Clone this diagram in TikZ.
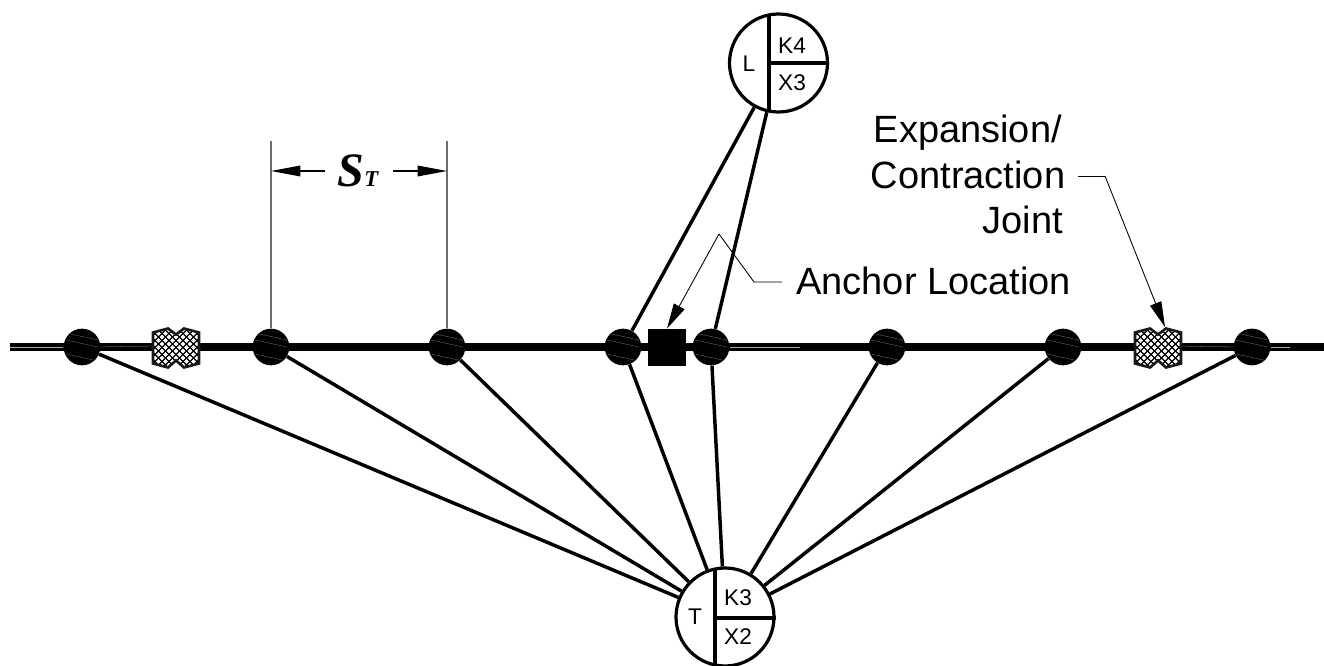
\documentclass[tikz,border=0pt]{standalone}
\usepackage{fontspec}
\setmainfont{Liberation Sans}
\newfontfamily\tnr{Liberation Serif}
\usetikzlibrary{arrows.meta,backgrounds,calc}
\tikzset{
  x=0.75pt,y=-0.75pt,
  support/.style={circle,fill=black,draw=none,minimum size=27.5pt,inner sep=0pt,
    path picture={
      \foreach \dy in {-11,-4,10}{
        \draw[black!55,line width=0.25pt]
          ($(path picture bounding box.center)+(-16,\dy-3)$) --
          ($(path picture bounding box.center)+(16,\dy+4)$);
      }
    }},
  mainline/.style={line width=5.4pt,black},
  sliver/.style={line width=0.2pt,black!35},
  conn/.style={line width=2.6pt,black},
  anchorbox/.style={rectangle,fill=black,draw=none,minimum size=28pt,inner sep=0pt},
  tag/.style={circle,draw=black,fill=white,line width=2.4pt,minimum size=73.5pt,inner sep=0pt},
  tagrule/.style={line width=2.6pt,black},
  tagtext/.style={font=\fontsize{17}{19}\selectfont,inner sep=0pt},
  callout/.style={font=\fontsize{28.5}{33}\selectfont,inner sep=0pt},
  leader/.style={line width=0.65pt,black},
  leadarrow/.style={leader,-{Triangle[length=19pt,width=9pt]}},
  dimline/.style={line width=0.9pt,black,-{Triangle[length=22pt,width=8pt]}},
  witness/.style={line width=1pt,gray!85!black},
  joint/.pic={
    \begin{scope}
      \clip (-23,-15) -- (-8,-19) -- (0,-13) -- (8,-19) -- (23,-15) -- (23,16) -- (8,20) -- (0,13) -- (-8,20) -- (-23,16) -- cycle;
      \fill[white] (-30,-30) rectangle (30,30);
      \foreach \k in {-70,-63,...,70}{
        \draw[line width=0.95pt,black] (\k-30,-30) -- (\k+30,30);
        \draw[line width=0.95pt,black] (\k-30,30) -- (\k+30,-30);
      }
    \end{scope}
    \draw[line width=2pt,black!90] (-23,-15) -- (-8,-19) -- (0,-13) -- (8,-19) -- (23,-15) -- (23,16) -- (8,20) -- (0,13) -- (-8,20) -- (-23,16) -- cycle;
  }
}
\begin{document}
\begin{tikzpicture}
\useasboundingbox (0,0) rectangle (1324,666);
% supports
\node[support] (d1) at (82,347) {};
\node[support] (d2) at (271,347) {};
\node[support] (d3) at (447,347) {};
\node[support] (d4) at (623,347) {};
\node[support] (d5) at (711,347) {};
\node[support] (d6) at (887,347) {};
\node[support] (d7) at (1063,347) {};
\node[support] (d8) at (1252,347) {};
\node[anchorbox] (sq) at (667,347.5) {};
% tags
\node[tag] (T) at (725,617) {};
\node[tag] (L) at (778.5,63) {};
\draw[tagrule] (715,568) -- (715,666);
\draw[tagrule] (715,618) -- (T.east |- 715,618);
\draw[tagrule] (769,14) -- (769,112);
\draw[tagrule] (769,63) -- (L.east);
\node[tagtext] (tT) at (695,617) {T};
\node[tagtext] (tK3) at (738,598) {K3};
\node[tagtext] (tX2) at (738,637) {X2};
\node[tagtext] (tL) at (749,64) {L};
\node[tagtext] (tK4) at (792,46) {K4};
\node[tagtext] (tX3) at (792,83) {X3};
% pipe and connectors behind everything
\coordinate (pa) at (10,347);
\coordinate (pb) at (1324,347);
\begin{pgfonlayer}{background}
\draw[mainline] (pa) -- (pb);
\draw[conn] (d1) -- (T);
\draw[conn] (d2) -- (T);
\draw[conn] (d3) -- (T);
\draw[conn] (d4) -- (T);
\draw[conn] (d5) -- (T);
\draw[conn] (d6) -- (T);
\draw[conn] (d7) -- (T);
\draw[conn] (d8) -- (T);
\draw[conn] (d4) -- (L);
\draw[conn] (d5) -- (L);
\end{pgfonlayer}
% thin lights in the pipe
\draw[sliver] (pa) -- (d1.west);
\draw[sliver] (d1.east) -- (153,346);
\draw[sliver] (d8.east) -- (1290,347);
\draw[sliver] (1181,346) -- (d8.west);
\draw[sliver] (d5.east) -- (800,347);
% joints
\coordinate (j1) at (176,347.5);
\coordinate (j2) at (1158,347.5);
\pic at (j1) {joint};
\pic at (j2) {joint};
% dimension
\coordinate (w1a) at (271,141);
\coordinate (w2a) at (447,141);
\coordinate (da) at (325,171);
\coordinate (db) at (393,171);
\coordinate (dl) at (271,171);
\coordinate (dr) at (447,171);
\draw[witness] (w1a) -- (d2.north);
\draw[witness] (w2a) -- (d3.north);
\draw[dimline] (da) -- (dl);
\draw[dimline] (db) -- (dr);
\node[anchor=base west,inner sep=0pt,font=\tnr\bfseries\itshape] (st) at (337.5,186.5)
  {\fontsize{36}{38}\selectfont S\fontsize{17}{18}\selectfont T};
% callouts
\node[callout,anchor=base west] (anch) at (796,295) {Anchor Location};
\coordinate (a1) at (782,282);
\coordinate (a2) at (754,282);
\coordinate (a3) at (719,234);
\draw[leader] (a1) -- (a2) -- (a3);
\draw[leadarrow] (a3) -- (sq.north);
\node[callout,anchor=base east] (exp2) at (1065.5,189) {Contraction};
\node[callout,anchor=base east] (exp1) at (1062,143) {Expansion/};
\node[callout,anchor=base east] (exp3) at (1063,234) {Joint};
\coordinate (e1) at (1078,176);
\coordinate (e2) at (1105,176);
\coordinate (e3) at (1165,327);
\draw[leader] (e1) -- (e2);
\draw[leadarrow] (e2) -- (e3);
\end{tikzpicture}
\end{document}
